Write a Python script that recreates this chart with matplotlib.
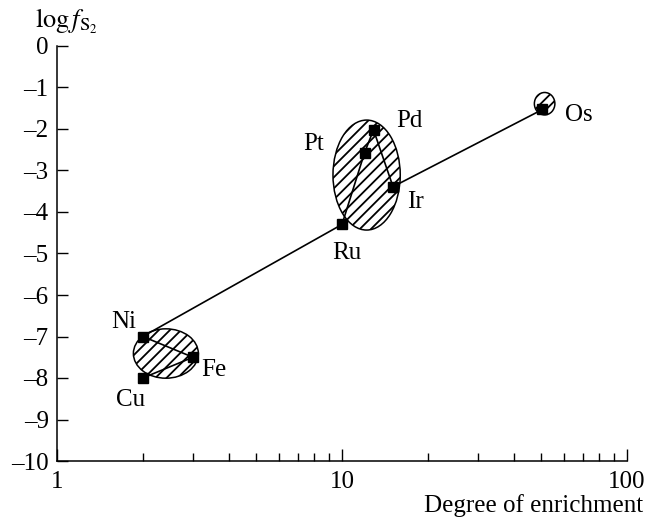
import matplotlib
matplotlib.use("Agg")
import matplotlib.pyplot as plt
import numpy as np
from matplotlib.patches import Ellipse
from matplotlib.transforms import Affine2D
from matplotlib.ticker import LogLocator, NullFormatter, FixedLocator, FuncFormatter

# ---- data ----
elements = ["Cu", "Fe", "Ni", "Ru", "Pt", "Pd", "Ir", "Os"]
enrichment = [2.0, 3.0, 2.0, 10.0, 12.0, 12.9, 15.1, 50.5]
log_fs2 = [-8.0, -7.5, -7.0, -4.3, -2.57, -2.02, -3.39, -1.53]

# grouping ellipses: centre (degree, log fS2), width in decades, height in log units
group_centres_x = [2.41, 12.2, 51.4]
group_centres_y = [-7.41, -3.11, -1.39]
group_widths_dec = [0.228, 0.236, 0.072]
group_heights = [1.19, 2.65, 0.54]

x_ticks_labels = ["1", "10", "100"]
y_ticks = list(range(0, -11, -1))

# ---- style ----
plt.rcParams['font.family'] = ['Liberation Serif', 'DejaVu Serif']
plt.rcParams['mathtext.fontset'] = 'stix'
plt.rcParams['hatch.linewidth'] = 1.3
FS = 18

fig = plt.figure(figsize=(6.47, 5.2), dpi=100)
ax = fig.add_axes([57/647, 1-461/520, (627-57)/647, (461-46)/520])

ax.set_xscale('log')
ax.set_xlim(1, 100)
ax.set_ylim(-10, 0)

# ellipses drawn in (log10 x, y) space
ell_tr = Affine2D().scale(0.5, 0.1).translate(0, 1.0) + ax.transAxes
for cx, cy, w, h in zip(group_centres_x, group_centres_y, group_widths_dec, group_heights):
    e = Ellipse((np.log10(cx), cy), w, h, transform=ell_tr, facecolor='white',
                edgecolor='black', hatch='///', linewidth=1.1, zorder=2)
    ax.add_patch(e)

ax.plot(enrichment, log_fs2, color='black', lw=1.2, marker='s', ms=7,
        mfc='black', mec='black', zorder=3, clip_on=False)

label_offsets = {
    "Ni": (-19, 9), "Cu": (-12, -28), "Fe": (21, -19), "Ru": (5, -35),
    "Pt": (-51, 3), "Pd": (36, 3), "Ir": (22, -21), "Os": (36, -12),
}
for name, xv, yv in zip(elements, enrichment, log_fs2):
    dx, dy = label_offsets[name]
    ax.annotate(name, (xv, yv), xytext=(dx, dy), textcoords='offset pixels',
                ha='center', va='baseline', fontsize=FS, zorder=4)

# axes / ticks
for s in ['top', 'right']:
    ax.spines[s].set_visible(False)
for s in ['left', 'bottom']:
    ax.spines[s].set_linewidth(1.1)

ax.yaxis.set_major_locator(FixedLocator(y_ticks))
ax.yaxis.set_major_formatter(FuncFormatter(lambda v, p: f"{int(v)}".replace('-', '\u2013')))
ax.xaxis.set_major_locator(FixedLocator([1, 10, 100]))
ax.xaxis.set_major_formatter(FuncFormatter(lambda v, p: x_ticks_labels[int(round(np.log10(v)))]))
ax.xaxis.set_minor_locator(LogLocator(base=10, subs=np.arange(2, 10)))
ax.xaxis.set_minor_formatter(NullFormatter())

ax.tick_params(axis='y', which='major', direction='in', length=8, width=1.0,
               labelsize=FS, pad=6)
ax.tick_params(axis='x', which='major', direction='in', length=9, width=1.0,
               labelsize=FS, pad=7)
ax.tick_params(axis='x', which='minor', direction='in', length=6, width=1.0)

fig.text(35/647, 1-28/520, r'$\mathrm{log}\,f_{\mathrm{S}_2}$', fontsize=FS + 1,
         ha='left', va='baseline')
fig.text(643/647, 1-512/520, 'Degree of enrichment', fontsize=FS,
         ha='right', va='baseline')

fig.savefig('out.png', dpi=100)
